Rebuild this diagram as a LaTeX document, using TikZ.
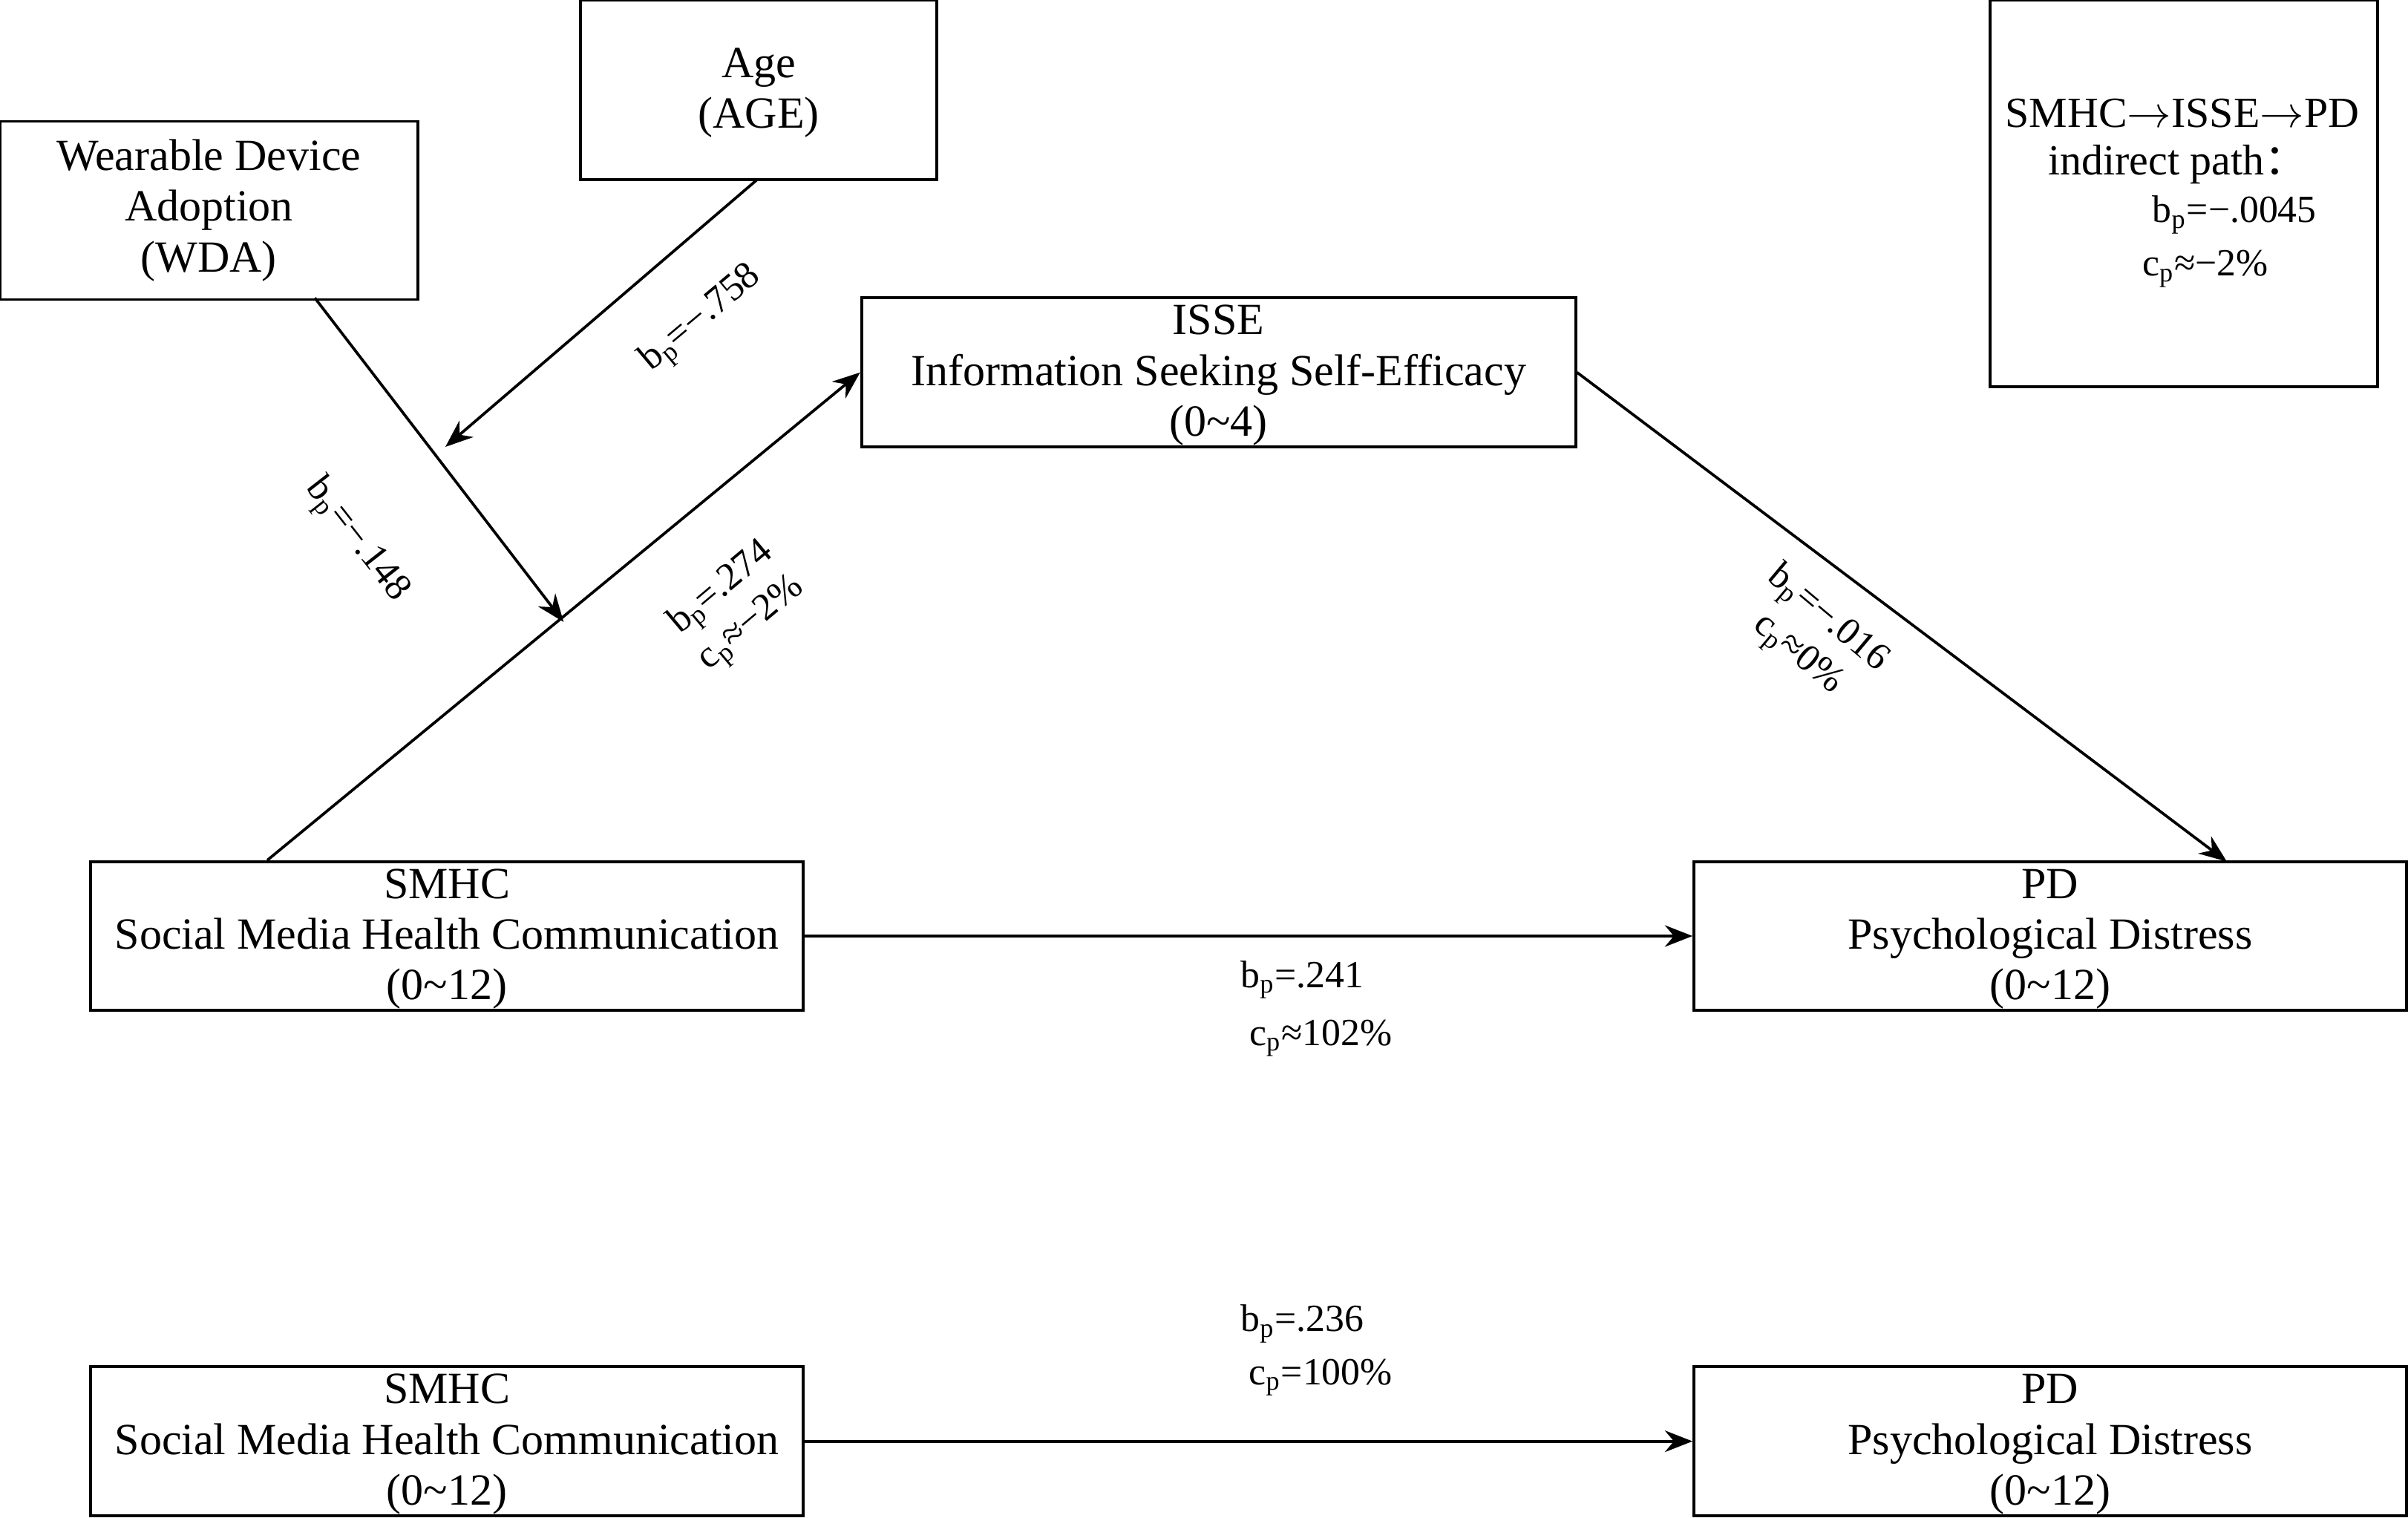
\documentclass[tikz,border=0pt]{standalone}
\usepackage{fontspec}
\setmainfont{Liberation Serif}
\newfontfamily\cjk{Noto Sans CJK SC}
\usetikzlibrary{arrows.meta}
\begin{document}
\begin{tikzpicture}[x=0.5pt,y=-0.5pt,
 box/.style={draw,line width=0.9pt,align=center,inner sep=0pt,font=\fontsize{14.5}{16.5}\selectfont},
 arr/.style={line width=0.9pt,-{Stealth[length=9pt,width=7pt]}},
 lab/.style={font=\fontsize{12.5}{15}\selectfont,align=center,inner sep=0pt}]
\useasboundingbox (0,0) rectangle (1568,988);
\node[box,minimum width=272pt*0.5,minimum height=116pt*0.5] (wda) at (136,137) {Wearable Device\\Adoption\\(WDA)};
\node[box,minimum width=232pt*0.5,minimum height=117pt*0.5] (age) at (494,58.5) {\strut Age\\(AGE)};
\node[box,minimum width=465pt*0.5,minimum height=97pt*0.5] (isse) at (793.5,242.5) {\strut ISSE\\Information Seeking Self-Efficacy\\(0\textasciitilde4)};
\node[box,minimum width=252pt*0.5,minimum height=252pt*0.5] (ind) at (1422,126) {};
\node[lab,font=\fontsize{14}{16}\selectfont] (t1) at (1421,74) {SMHC$\rightarrow$ISSE$\rightarrow$PD};
\node[lab,font=\fontsize{14}{16}\selectfont] (t2) at (1418,107) {indirect path{\cjk ：}};
\node[lab] (t3) at (1455,140) {b$_{\mathrm{p}}$=−.0045};
\node[lab] (t4) at (1436,175) {c$_{\mathrm{p}}$≈−2\%};
\node[box,minimum width=464pt*0.5,minimum height=97pt*0.5] (s1) at (291,609.5) {\strut SMHC\\Social Media Health Communication\\(0\textasciitilde12)};
\node[box,minimum width=464pt*0.5,minimum height=97pt*0.5] (p1) at (1335,609.5) {\strut PD\\Psychological Distress\\(0\textasciitilde12)};
\node[box,minimum width=464pt*0.5,minimum height=97pt*0.5] (s2) at (291,938.5) {\strut SMHC\\Social Media Health Communication\\(0\textasciitilde12)};
\node[box,minimum width=464pt*0.5,minimum height=97pt*0.5] (p2) at (1335,938.5) {\strut PD\\Psychological Distress\\(0\textasciitilde12)};
\coordinate (m1) at (367,405);
\coordinate (m2) at (290,291);
\draw[arr] (s1.north west) ++(116,0) coordinate (s1t) -- (isse.west);
\draw[arr] (isse.east) -- (1450,561);
\draw[arr] (s1.east) -- (p1.west);
\draw[arr] (s2.east) -- (p2.west);
\draw[arr] (205,194) -- (m1);
\draw[arr] (493,117) -- (m2);
\node[lab,rotate=40] (l1) at (457,208) {b$_{\mathrm{p}}$=−.758};
\node[lab,rotate=-52] (l2) at (232,352) {b$_{\mathrm{p}}$=−.148};
\node[lab,rotate=40] (l3) at (480,395) {b$_{\mathrm{p}}$=.274\\c$_{\mathrm{p}}$≈−2\%};
\node[lab,rotate=-40] (l4) at (1180,415) {b$_{\mathrm{p}}$=−.016\\c$_{\mathrm{p}}$≈0\%};
\node[lab] (l5) at (848,638) {b$_{\mathrm{p}}$=.241};
\node[lab] (l6) at (860,676) {c$_{\mathrm{p}}$≈102\%};
\node[lab] (l7) at (848,862) {b$_{\mathrm{p}}$=.236};
\node[lab] (l8) at (860,897) {c$_{\mathrm{p}}$=100\%};
\end{tikzpicture}
\end{document}
